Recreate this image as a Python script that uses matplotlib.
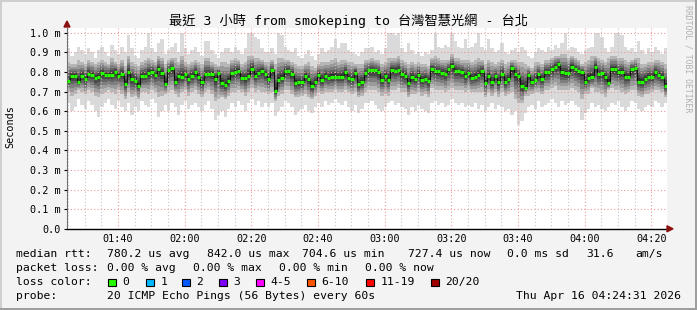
import numpy as np
import matplotlib
matplotlib.use("Agg")
import matplotlib.pyplot as plt
from matplotlib.patches import Rectangle, Polygon
from matplotlib.ticker import FuncFormatter, MultipleLocator

W, H = 697, 310

# left edge of the graph, minutes after midnight (01:24:40)
start_min = 1 * 60 + 24 + 40 / 60

# median rtt per minute (ms)
median = [
    0.755, 0.78, 0.78, 0.75, 0.78, 0.765, 0.79, 0.785, 0.77, 0.775,
    0.795, 0.785, 0.785, 0.785, 0.80, 0.78, 0.79, 0.74, 0.80, 0.765,
    0.755, 0.73, 0.78, 0.78, 0.795, 0.80, 0.785, 0.815, 0.795, 0.74,
    0.808, 0.818, 0.747, 0.781, 0.776, 0.79, 0.764, 0.78, 0.798, 0.776,
    0.747, 0.79, 0.79, 0.79, 0.764, 0.797, 0.742, 0.734, 0.756, 0.793,
    0.802, 0.807, 0.771, 0.768, 0.781, 0.817, 0.781, 0.797, 0.807, 0.79,
    0.764, 0.808, 0.705, 0.759, 0.771, 0.807, 0.805, 0.79, 0.744, 0.747,
    0.747, 0.781, 0.764, 0.729, 0.751, 0.786, 0.759, 0.78, 0.771, 0.776,
    0.776, 0.773, 0.776, 0.798, 0.768, 0.764, 0.797, 0.737, 0.747, 0.793,
    0.808, 0.808, 0.808, 0.798, 0.759, 0.78, 0.759, 0.81, 0.807, 0.81,
    0.788, 0.78, 0.742, 0.773, 0.763, 0.786, 0.759, 0.764, 0.753, 0.815,
    0.803, 0.803, 0.797, 0.79, 0.815, 0.832, 0.807, 0.803, 0.80, 0.78,
    0.793, 0.771, 0.776, 0.785, 0.805, 0.746, 0.778, 0.747, 0.778, 0.747,
    0.79, 0.747, 0.764, 0.819, 0.79, 0.78, 0.729, 0.719, 0.786, 0.747,
    0.759, 0.788, 0.764, 0.798, 0.798, 0.815, 0.827, 0.841, 0.798, 0.793,
    0.793, 0.827, 0.815, 0.805, 0.798, 0.747, 0.771, 0.773, 0.827, 0.788,
    0.793, 0.776, 0.746, 0.815, 0.815, 0.798, 0.802, 0.776, 0.776, 0.815,
    0.819, 0.751, 0.751, 0.764, 0.776, 0.776, 0.798, 0.786, 0.776, 0.727,
]

# slowest ping per minute (top of the light smoke)
ping_max = [
    0.92, 0.88, 0.90, 0.93, 0.91, 0.89, 0.92, 0.90, 0.87, 0.91,
    0.93, 0.90, 0.88, 0.94, 0.91, 0.89, 0.93, 0.90, 0.99, 0.92,
    0.88, 0.87, 0.91, 0.93, 1.00, 0.92, 0.90, 0.95, 0.97, 0.89,
    0.91, 0.93, 0.95, 0.90, 1.00, 0.92, 0.89, 0.91, 0.93, 0.90,
    0.88, 0.96, 0.96, 0.91, 0.89, 0.87, 0.90, 0.92, 0.92, 0.90,
    0.93, 0.91, 0.89, 0.92, 1.00, 1.00, 0.98, 0.97, 0.92, 0.90,
    0.90, 0.92, 0.89, 1.00, 0.99, 0.93, 0.91, 0.90, 0.92, 0.88,
    0.87, 0.89, 0.91, 0.88, 0.86, 0.89, 0.92, 0.90, 0.91, 0.93,
    0.97, 0.92, 0.95, 0.95, 0.91, 0.90, 0.89, 0.88, 0.90, 0.92,
    0.92, 0.93, 0.90, 0.91, 0.89, 0.92, 1.00, 1.00, 0.99, 1.00,
    0.92, 0.90, 0.95, 0.91, 0.89, 0.90, 0.88, 0.90, 0.89, 0.91,
    1.00, 0.93, 0.92, 0.94, 0.93, 1.00, 0.96, 0.93, 0.92, 0.97,
    0.92, 0.93, 0.95, 1.00, 0.93, 0.91, 0.97, 0.92, 0.90, 0.91,
    0.95, 0.90, 0.89, 0.91, 0.92, 0.90, 0.93, 0.91, 0.88, 0.87,
    0.90, 0.92, 0.91, 0.90, 0.93, 0.91, 0.94, 0.92, 0.95, 1.00,
    0.91, 0.93, 0.92, 0.90, 0.89, 0.91, 0.92, 0.93, 1.00, 1.00,
    0.98, 0.92, 0.90, 0.93, 1.00, 1.00, 0.99, 0.93, 0.91, 0.92,
    0.90, 0.96, 0.91, 0.89, 0.92, 0.90, 0.93, 0.91, 0.89, 0.92,
]

# fastest ping per minute (bottom of the light smoke)
ping_min = [
    0.64, 0.60, 0.62, 0.66, 0.63, 0.61, 0.65, 0.63, 0.60, 0.57,
    0.62, 0.64, 0.66, 0.63, 0.61, 0.65, 0.62, 0.60, 0.64, 0.58,
    0.62, 0.60, 0.65, 0.63, 0.62, 0.66, 0.64, 0.57, 0.60, 0.63,
    0.60, 0.64, 0.62, 0.58, 0.63, 0.65, 0.61, 0.63, 0.64, 0.62,
    0.60, 0.63, 0.65, 0.61, 0.555, 0.58, 0.60, 0.57, 0.61, 0.64,
    0.62, 0.65, 0.63, 0.60, 0.64, 0.66, 0.63, 0.65, 0.62, 0.64,
    0.62, 0.64, 0.575, 0.60, 0.62, 0.65, 0.64, 0.62, 0.58, 0.60,
    0.61, 0.63, 0.60, 0.59, 0.62, 0.64, 0.62, 0.65, 0.63, 0.64,
    0.66, 0.64, 0.63, 0.65, 0.62, 0.60, 0.63, 0.59, 0.61, 0.64,
    0.64, 0.65, 0.63, 0.61, 0.60, 0.62, 0.64, 0.65, 0.63, 0.64,
    0.62, 0.61, 0.58, 0.62, 0.60, 0.63, 0.61, 0.60, 0.59, 0.64,
    0.65, 0.63, 0.64, 0.62, 0.63, 0.66, 0.64, 0.63, 0.64, 0.62,
    0.63, 0.62, 0.64, 0.61, 0.63, 0.60, 0.62, 0.64, 0.61, 0.63,
    0.62, 0.60, 0.61, 0.58, 0.60, 0.53, 0.55, 0.59, 0.62, 0.63,
    0.61, 0.65, 0.62, 0.63, 0.64, 0.66, 0.64, 0.62, 0.65, 0.63,
    0.64, 0.65, 0.63, 0.62, 0.555, 0.59, 0.61, 0.64, 0.62, 0.63,
    0.61, 0.60, 0.62, 0.64, 0.63, 0.65, 0.62, 0.60, 0.62, 0.65,
    0.64, 0.61, 0.60, 0.62, 0.63, 0.62, 0.65, 0.64, 0.62, 0.64,
]

# edges of the denser smoke (about 3rd and 18th of 20 pings)
ping_hi = [
    0.85, 0.84, 0.84, 0.86, 0.85, 0.84, 0.86, 0.85, 0.84, 0.85,
    0.86, 0.85, 0.84, 0.87, 0.85, 0.84, 0.86, 0.83, 0.88, 0.85,
    0.84, 0.83, 0.85, 0.86, 0.87, 0.86, 0.85, 0.88, 0.87, 0.84,
    0.86, 0.87, 0.87, 0.85, 0.88, 0.85, 0.84, 0.85, 0.86, 0.85,
    0.84, 0.87, 0.87, 0.85, 0.84, 0.83, 0.85, 0.85, 0.84, 0.86,
    0.87, 0.86, 0.84, 0.85, 0.88, 0.88, 0.87, 0.87, 0.86, 0.85,
    0.85, 0.86, 0.84, 0.87, 0.87, 0.86, 0.86, 0.85, 0.84, 0.83,
    0.83, 0.84, 0.85, 0.83, 0.82, 0.84, 0.85, 0.85, 0.85, 0.86,
    0.87, 0.85, 0.86, 0.86, 0.85, 0.85, 0.84, 0.84, 0.84, 0.86,
    0.86, 0.87, 0.86, 0.86, 0.84, 0.85, 0.87, 0.87, 0.87, 0.88,
    0.86, 0.85, 0.84, 0.85, 0.84, 0.85, 0.84, 0.84, 0.83, 0.87,
    0.88, 0.87, 0.86, 0.86, 0.86, 0.89, 0.87, 0.87, 0.86, 0.86,
    0.86, 0.85, 0.86, 0.87, 0.86, 0.84, 0.86, 0.85, 0.84, 0.85,
    0.86, 0.84, 0.85, 0.86, 0.86, 0.85, 0.85, 0.84, 0.83, 0.82,
    0.85, 0.85, 0.84, 0.86, 0.86, 0.87, 0.88, 0.88, 0.89, 0.89,
    0.87, 0.88, 0.87, 0.86, 0.84, 0.85, 0.86, 0.88, 0.88, 0.87,
    0.86, 0.85, 0.87, 0.88, 0.88, 0.87, 0.87, 0.86, 0.85, 0.86,
    0.87, 0.87, 0.84, 0.84, 0.85, 0.85, 0.86, 0.86, 0.85, 0.84,
]
ping_lo = [
    0.70, 0.68, 0.69, 0.71, 0.70, 0.69, 0.71, 0.70, 0.68, 0.67,
    0.69, 0.70, 0.71, 0.70, 0.69, 0.71, 0.69, 0.66, 0.70, 0.67,
    0.68, 0.66, 0.70, 0.70, 0.69, 0.71, 0.70, 0.67, 0.68, 0.69,
    0.70, 0.71, 0.69, 0.67, 0.70, 0.71, 0.68, 0.70, 0.71, 0.69,
    0.67, 0.70, 0.71, 0.69, 0.65, 0.66, 0.67, 0.66, 0.68, 0.70,
    0.70, 0.71, 0.70, 0.68, 0.70, 0.72, 0.70, 0.71, 0.70, 0.70,
    0.69, 0.70, 0.65, 0.68, 0.69, 0.71, 0.71, 0.69, 0.67, 0.67,
    0.68, 0.69, 0.67, 0.66, 0.68, 0.70, 0.69, 0.70, 0.70, 0.70,
    0.71, 0.70, 0.70, 0.71, 0.70, 0.69, 0.70, 0.67, 0.68, 0.70,
    0.71, 0.71, 0.71, 0.70, 0.68, 0.69, 0.68, 0.71, 0.71, 0.72,
    0.70, 0.70, 0.67, 0.69, 0.69, 0.70, 0.68, 0.69, 0.67, 0.72,
    0.71, 0.71, 0.71, 0.70, 0.71, 0.72, 0.71, 0.71, 0.71, 0.70,
    0.71, 0.70, 0.70, 0.70, 0.70, 0.67, 0.70, 0.68, 0.70, 0.67,
    0.70, 0.68, 0.69, 0.70, 0.66, 0.64, 0.64, 0.68, 0.68, 0.69,
    0.70, 0.70, 0.69, 0.71, 0.71, 0.72, 0.73, 0.71, 0.71, 0.71,
    0.71, 0.72, 0.71, 0.70, 0.66, 0.69, 0.69, 0.72, 0.70, 0.70,
    0.69, 0.67, 0.71, 0.72, 0.71, 0.71, 0.70, 0.69, 0.70, 0.71,
    0.71, 0.68, 0.67, 0.69, 0.69, 0.70, 0.71, 0.71, 0.70, 0.67,
]

loss_labels = ["0", "1", "2", "3", "4-5", "6-10", "11-19", "20/20"]
loss_colors = ["#26ff00", "#00b8ff", "#0059ff", "#7e00ff",
               "#ff00ff", "#ff5500", "#ff0000", "#a10000"]
loss_box_x = [108, 146, 182, 219, 256, 307, 366, 431]

title = "最近 3 小時 from smokeping to 台灣智慧光網 - 台北"
rtt_parts = [(107, "780.2 us avg"), (207, "842.0 us max"), (302, "704.6 us min"),
             (408, "727.4 us now"), (507, "0.0 ms sd"), (586, "31.6"), (635, "am/s")]
loss_parts = [(107, "0.00 % avg"), (193, "0.00 % max"), (279, "0.00 % min"), (365, "0.00 % now")]
probe_text = "20 ICMP Echo Pings (56 Bytes) every 60s"
stamp = "Thu Apr 16 04:24:31 2026"

mono = ["DejaVu Sans Mono", "Noto Sans CJK TC"]


def fx(x):
    return x / W


def fy(y):
    return 1 - y / H


med = np.array(median)
pmax = np.array(ping_max)
pmin = np.array(ping_min)
phi = np.array(ping_hi)
plo = np.array(ping_lo)
edges = start_min + np.arange(len(med) + 1)


def ext(a):
    return np.append(a, a[-1])


fig = plt.figure(figsize=(W / 100, H / 100), dpi=100, facecolor="#f3f3f3")

top_px, bot_px = 28, 228.8
ax = fig.add_axes([fx(67), fy(bot_px), 600 / W, (bot_px - top_px) / H])
ax.set_facecolor("white")

# smoke: light outer band, then darker towards the median
ax.fill_between(edges, ext(pmin), ext(pmax), step="post", color="#dadada", lw=0, zorder=1)
shades = [(1.0, "#b6b6b6"), (0.8, "#9a9a9a"), (0.6, "#7e7e7e"),
          (0.42, "#636363"), (0.27, "#484848"), (0.14, "#2e2e2e")]
for f, c in shades:
    lo = med - f * (med - plo)
    hi = med + f * (phi - med)
    ax.fill_between(edges, ext(lo), ext(hi), step="post", color=c, lw=0, zorder=1)

ax.step(edges, ext(med), where="post", color="#101010", lw=0.8, zorder=3)
ax.hlines(med, edges[:-1], edges[1:], colors=loss_colors[0], lw=2.3, zorder=4)

ax.set_xlim(edges[0], edges[0] + 180)
ax.set_ylim(0, (bot_px - top_px) / 196.0)

ax.xaxis.set_major_locator(MultipleLocator(20))
ax.xaxis.set_minor_locator(MultipleLocator(5))
ax.xaxis.set_major_formatter(FuncFormatter(lambda v, p: "%02d:%02d" % (int(v) // 60, int(v) % 60)))
ax.set_yticks(np.arange(0, 1.01, 0.1))
ax.yaxis.set_major_formatter(FuncFormatter(lambda v, p: "0.0" if abs(v) < 1e-9 else "%.1f m" % v))

ax.set_axisbelow(False)
ax.grid(which="major", color="#eb9a9a", linestyle=(0, (1, 2)), lw=0.8)
ax.grid(which="minor", axis="x", color="#c4c4c4", linestyle=(0, (1, 2)), lw=0.8)

for lab in ax.get_xticklabels() + ax.get_yticklabels():
    lab.set_family(mono)
ax.tick_params(axis="x", which="both", length=0, pad=4, labelsize=7.3, colors="#000000")
ax.tick_params(axis="y", which="both", length=2.5, pad=2, labelsize=7.3, color="#000000")
for side in ["top", "right"]:
    ax.spines[side].set_visible(False)
ax.spines["left"].set_color("#707070")
ax.spines["bottom"].set_color("#000000")
ax.spines["bottom"].set_linewidth(1.0)

# axis arrows
fig.patches.append(Polygon([(fx(64), fy(27)), (fx(70), fy(27)), (fx(67), fy(21))],
                           closed=True, transform=fig.transFigure, color="#8b1010"))
fig.patches.append(Polygon([(fx(667), fy(225.8)), (fx(667), fy(231.8)), (fx(673), fy(228.8))],
                           closed=True, transform=fig.transFigure, color="#8b1010"))

# frame
fig.patches.append(Rectangle((0, fy(2)), 1, 2 / H, transform=fig.transFigure, color="#cfcfcf", lw=0))
fig.patches.append(Rectangle((0, 0), 2 / W, 1, transform=fig.transFigure, color="#cfcfcf", lw=0))
fig.patches.append(Rectangle((0, 0), 1, 2 / H, transform=fig.transFigure, color="#9e9e9e", lw=0))
fig.patches.append(Rectangle((1 - 2 / W, 0), 2 / W, 1, transform=fig.transFigure, color="#9e9e9e", lw=0))

fig.text(0.5, fy(21), title, ha="center", va="center", fontsize=9.5, family=mono)
fig.text(fx(10), fy(127), "Seconds", rotation=90, ha="center", va="center", fontsize=7.3, family=mono)
fig.text(fx(688), fy(5), "RRDTOOL / TOBI OETIKER", rotation=270, ha="center", va="top",
         fontsize=5.9, family=mono, color="#b0b0b0")

fs = 8.2
rows = [254, 268, 282, 296]
fig.text(fx(16), fy(rows[0]), "median rtt:", va="center", fontsize=fs, family=mono)
for x, s in rtt_parts:
    fig.text(fx(x), fy(rows[0]), s, va="center", fontsize=fs, family=mono)
fig.text(fx(16), fy(rows[1]), "packet loss:", va="center", fontsize=fs, family=mono)
for x, s in loss_parts:
    fig.text(fx(x), fy(rows[1]), s, va="center", fontsize=fs, family=mono)
fig.text(fx(16), fy(rows[2]), "loss color:", va="center", fontsize=fs, family=mono)
for x, lab, c in zip(loss_box_x, loss_labels, loss_colors):
    fig.patches.append(Rectangle((fx(x), fy(286)), 7.5 / W, 7.5 / H, transform=fig.transFigure,
                                 facecolor=c, edgecolor="black", lw=0.8))
    fig.text(fx(x + 14.5), fy(rows[2]), lab, va="center", fontsize=fs, family=mono)
fig.text(fx(16), fy(rows[3]), "probe:", va="center", fontsize=fs, family=mono)
fig.text(fx(107), fy(rows[3]), probe_text, va="center", fontsize=fs, family=mono)
fig.text(fx(681), fy(rows[3]), stamp, ha="right", va="center", fontsize=fs, family=mono)

fig.savefig("out.png", dpi=100, facecolor=fig.get_facecolor())
